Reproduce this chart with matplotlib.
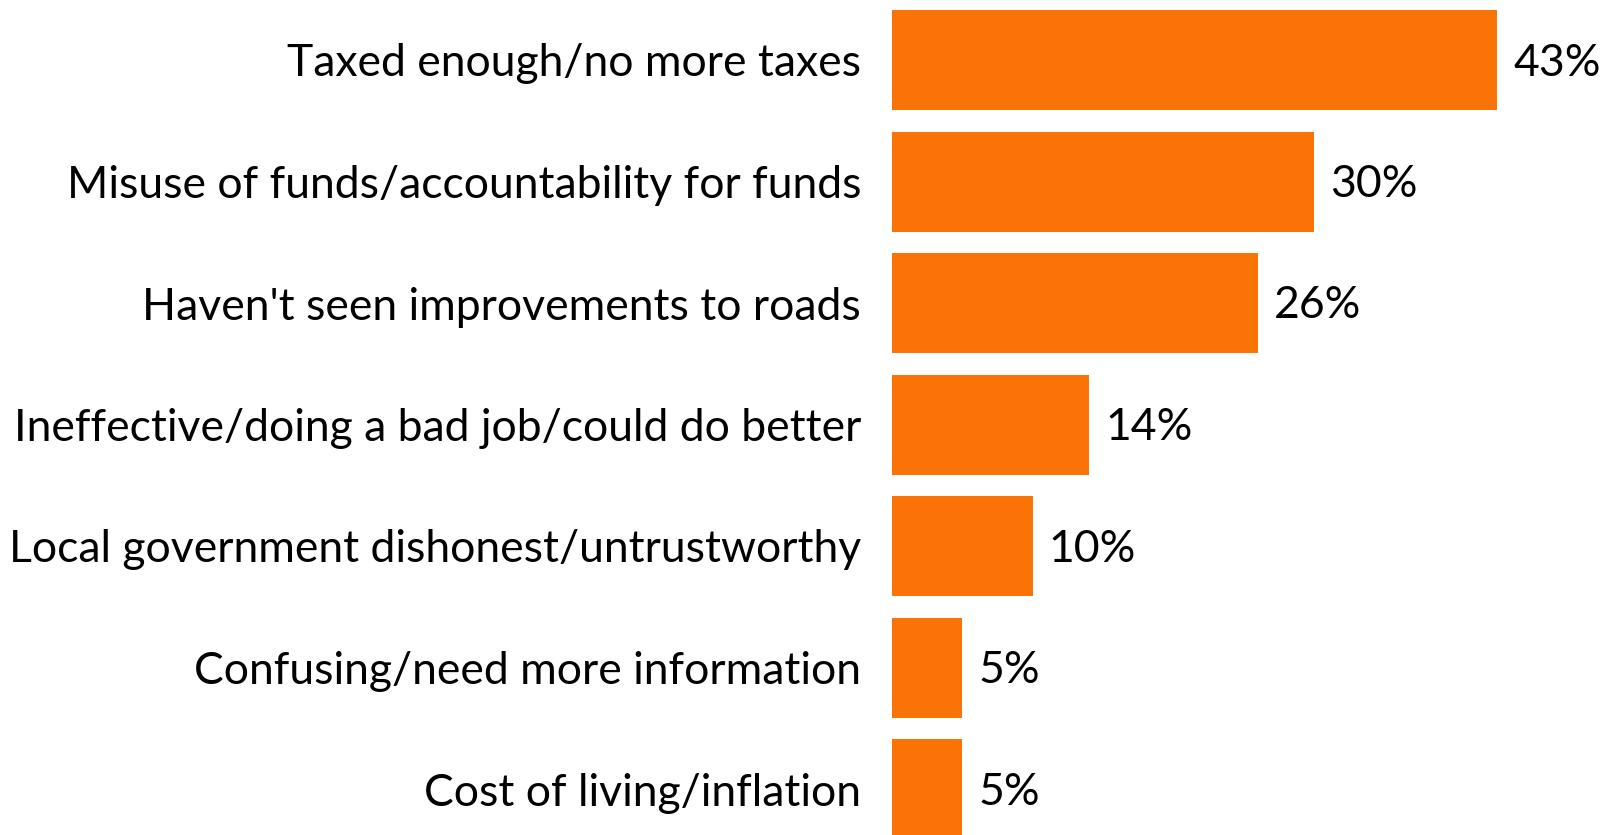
import matplotlib
matplotlib.use("Agg")
import matplotlib.pyplot as plt

categories = [
    "Taxed enough/no more taxes",
    "Misuse of funds/accountability for funds",
    "Haven't seen improvements to roads",
    "Ineffective/doing a bad job/could do better",
    "Local government dishonest/untrustworthy",
    "Confusing/need more information",
    "Cost of living/inflation",
]
values = [43, 30, 26, 14, 10, 5, 5]
labels = ["43%", "30%", "26%", "14%", "10%", "5%", "5%"]

W, H = 1610, 835
fig = plt.figure(figsize=(W / 100, H / 100), dpi=100)
left_px = 892
ax = fig.add_axes([left_px / W, 0, 1 - left_px / W, 1])
px_per_unit = 14.07
ax.set_xlim(0, (W - left_px) / px_per_unit)
pitch = 121.5
c0 = 60
ax.set_ylim((H - c0) / pitch, -c0 / pitch)

pos = list(range(len(categories)))
ax.barh(pos, values, height=100 / pitch, color="#F97306", edgecolor="none")
font = "Lato"
fs = 32
for p, v, l in zip(pos, values, labels):
    ax.text(v + 16 / px_per_unit, p + 3 / pitch, l, va="center", ha="left", fontsize=fs, family=font, color="black")
ax.set_yticks(pos)
ax.set_yticklabels(categories, fontsize=fs, family=font)
ax.tick_params(axis="y", length=0, pad=31 * 0.72)
ax.set_xticks([])
for s in ax.spines.values():
    s.set_visible(False)
fig.savefig("out.png", dpi=100)
